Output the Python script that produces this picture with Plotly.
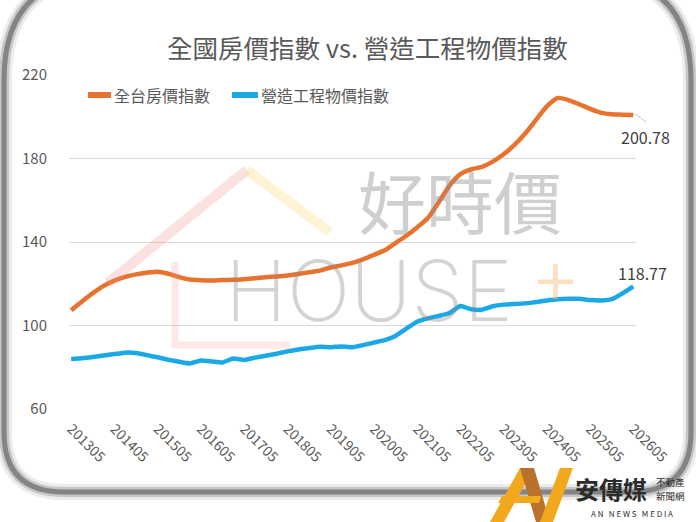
import plotly.graph_objects as go

# ---------------- data ----------------
months = [
    "201305", "201308", "201311", "201402", "201405", "201408", "201411", "201502",
    "201505", "201508", "201511", "201602", "201605", "201608", "201611", "201702",
    "201705", "201708", "201711", "201802", "201805", "201808", "201811", "201902",
    "201905", "201908", "201911", "202002", "202005", "202008", "202011", "202102",
    "202105", "202108", "202111", "202202", "202205", "202208", "202211", "202302",
    "202305", "202308", "202311", "202402", "202405", "202408", "202411", "202502",
    "202505", "202508", "202511", "202602", "202605",
]
house_index = [
    107.3, 111.5, 115.5, 119.0, 121.5, 123.3, 124.5, 125.3,
    125.8, 124.8, 123.2, 122.0, 121.7, 121.6, 121.8, 121.9,
    122.2, 122.6, 123.1, 123.5, 124.0, 124.7, 125.5, 126.3,
    127.8, 128.8, 130.0, 131.7, 133.8, 136.0, 139.5, 143.0,
    147.0, 151.5, 159.0, 167.0, 172.5, 174.8, 176.0, 178.5,
    182.0, 186.5, 192.0, 198.5, 205.0, 209.0, 208.0, 206.0,
    203.8, 202.0, 201.2, 201.0, 200.78,
]
construction_index = [
    84.0, 84.3, 84.9, 85.6, 86.3, 87.0, 86.8, 85.8,
    84.8, 83.6, 82.6, 81.8, 83.2, 82.8, 82.3, 84.2,
    83.5, 84.6, 85.5, 86.5, 87.6, 88.5, 89.2, 89.8,
    89.6, 90.0, 89.6, 90.6, 91.8, 93.0, 95.0, 98.5,
    101.8, 103.4, 104.6, 106.0, 109.3, 107.8, 107.5, 109.2,
    110.0, 110.3, 110.6, 111.2, 112.0, 112.6, 112.8, 112.8,
    112.2, 112.0, 112.6, 115.4, 118.77,
]
year_ticks = ["201305", "201405", "201505", "201605", "201705", "201805", "201905",
              "202005", "202105", "202205", "202305", "202405", "202505", "202605"]
series_names = ["全台房價指數", "營造工程物價指數"]
series_colors = ["#E8732F", "#1AA9E4"]
title_text = "全國房價指數 vs. 營造工程物價指數"

# ---------------- layout geometry ----------------
W, H = 696, 522
ML, MR, MT, MB = 69, 60, 75, 113
PW, PH = W - ML - MR, H - MT - MB
Y0, Y1 = 60, 220
X_RANGE = [-0.2, len(months) - 1 + 0.25]


def px(x):
    return (x - ML) / PW


def py(y):
    return (H - MB - y) / PH


FONT = "Noto Sans CJK TC, Noto Sans, sans-serif"
GRAY = "#595959"

fig = go.Figure()
fig.add_trace(go.Scatter(
    x=months, y=house_index, name=series_names[0], mode="lines",
    line=dict(color=series_colors[0], width=4.5, shape="spline", smoothing=0.6),
    hoverinfo="skip", showlegend=False))
fig.add_trace(go.Scatter(
    x=months, y=construction_index, name=series_names[1], mode="lines",
    line=dict(color=series_colors[1], width=4.5, shape="spline", smoothing=0.4),
    hoverinfo="skip", showlegend=False))

shapes = []


def card_path(l, t, r, b, rt, rb):
    pts = [
        f"M {px(l)},{py(t + rt)}",
        f"L {px(l)},{py(b - rb)}",
        f"Q {px(l)},{py(b)} {px(l + rb)},{py(b)}",
        f"L {px(r - rb)},{py(b)}",
        f"Q {px(r)},{py(b)} {px(r)},{py(b - rb)}",
        f"L {px(r)},{py(t + rt)}",
        f"Q {px(r)},{py(t)} {px(r - rt)},{py(t)}",
        f"L {px(l + rt)},{py(t)}",
        f"Q {px(l)},{py(t)} {px(l)},{py(t + rt)}",
        "Z",
    ]
    return " ".join(pts)


for w, c in [(16, "rgba(150,150,150,0.18)"), (10, "rgba(130,130,130,0.35)"), (5, "rgba(110,110,110,0.75)")]:
    shapes.append(dict(type="path", xref="paper", yref="paper",
                       path=card_path(4, -25, 691, 492, 105, 60),
                       line=dict(color=c, width=w), fillcolor="rgba(0,0,0,0)", layer="below"))

# watermark house outline
shapes.append(dict(type="path", xref="paper", yref="paper",
                   path=f"M {px(108)},{py(283)} L {px(247)},{py(170)}",
                   line=dict(color="rgba(240,140,130,0.25)", width=10)))
shapes.append(dict(type="path", xref="paper", yref="paper",
                   path=f"M {px(247)},{py(170)} L {px(330)},{py(232)}",
                   line=dict(color="rgba(250,220,120,0.3)", width=10)))
shapes.append(dict(type="path", xref="paper", yref="paper",
                   path=f"M {px(175)},{py(262)} L {px(175)},{py(345)} L {px(290)},{py(345)}",
                   line=dict(color="rgba(245,150,140,0.22)", width=7)))

# leader line for the end label
shapes.append(dict(type="line", xref="paper", yref="paper",
                   x0=px(635), y0=py(114), x1=px(646), y1=py(122),
                   line=dict(color="#C8C8C8", width=1)))

# manual legend markers
shapes.append(dict(type="line", xref="paper", yref="paper", x0=px(88), x1=px(111),
                   y0=py(95), y1=py(95), line=dict(color=series_colors[0], width=6)))
shapes.append(dict(type="line", xref="paper", yref="paper", x0=px(232), x1=px(258),
                   y0=py(95), y1=py(95), line=dict(color=series_colors[1], width=6)))


def poly(points, color):
    d = "M " + " L ".join(f"{px(a)},{py(b)}" for a, b in points) + " Z"
    return dict(type="path", xref="paper", yref="paper", path=d,
                fillcolor=color, line=dict(width=0))


# logo icon
shapes.append(poly([(490, 522), (504, 522), (534, 468), (520, 468)], "#F2A81D"))
shapes.append(poly([(520, 468), (534, 468), (550, 522), (536, 522)], "#B9722B"))
shapes.append(poly([(540, 522), (553, 522), (573, 468), (560, 468)], "#F2A81D"))
shapes.append(poly([(502, 496), (541, 496), (539, 503), (498, 503)], "#F2A81D"))


def ann(text, x, y, size, color, family=FONT, xanchor="center", yanchor="middle", **kw):
    d = dict(text=text, x=px(x), y=py(y), xref="paper", yref="paper", showarrow=False,
             xanchor=xanchor, yanchor=yanchor,
             font=dict(family=family, size=size, color=color, **kw.pop("fontkw", {})))
    d.update(kw)
    return d


def data_px(i, v):
    x = ML + (i - X_RANGE[0]) / (X_RANGE[1] - X_RANGE[0]) * PW
    y = H - MB - (v - Y0) / (Y1 - Y0) * PH
    return x, y


hx, hy = data_px(len(months) - 1, house_index[-1])
cx, cy = data_px(len(months) - 1, construction_index[-1])

annotations = [
    ann(title_text, 367, 46, 25.5, GRAY),
    ann(series_names[0], 112, 95, 16, GRAY, xanchor="left"),
    ann(series_names[1], 259, 95, 16, GRAY, xanchor="left"),
    ann(f"{house_index[-1]:.2f}", hx + 12, hy + 22, 16, "#404040"),
    ann(f"{construction_index[-1]:.2f}", cx + 9, cy - 13, 16, "#404040"),
    # watermark
    ann("好時價", 460, 199, 68, "rgba(140,140,140,0.42)"),
    ann("HOUSE", 369, 290, 84, "rgba(140,140,140,0.38)", family="Inter, Noto Sans, sans-serif",
        fontkw=dict(weight=200)),
    ann("+", 555, 279, 56, "rgba(250,190,130,0.5)", family="DejaVu Sans, sans-serif"),
    # logo text
    ann("<b>安傳媒</b>", 611, 488, 24, "#2b2b2b"),
    ann("不動產", 654, 482, 9.5, "#2b2b2b", xanchor="left"),
    ann("新聞網", 654, 496, 9.5, "#2b2b2b", xanchor="left"),
    ann("A N   N E W S   M E D I A", 632, 513, 8, "#2b2b2b"),
]

fig.update_layout(
    width=W, height=H,
    margin=dict(l=ML, r=MR, t=MT, b=MB),
    paper_bgcolor="white", plot_bgcolor="white",
    font=dict(family=FONT, color=GRAY),
    showlegend=False,
    xaxis=dict(type="category", range=X_RANGE,
               tickmode="array", tickvals=year_ticks, ticktext=year_ticks, tickangle=45,
               showgrid=False, showline=False, zeroline=False, ticks="",
               ticklabelstandoff=8,
               tickfont=dict(family=FONT, size=14, color=GRAY)),
    yaxis=dict(range=[Y0, Y1], tickvals=[60, 100, 140, 180, 220],
               showgrid=True, gridcolor="#D9D9D9", gridwidth=1, zeroline=False, showline=False,
               ticks="outside", ticklen=18, tickcolor="rgba(0,0,0,0)",
               tickfont=dict(family=FONT, size=15, color=GRAY)),
    shapes=shapes,
    annotations=annotations,
)

fig.write_html("out.html")
